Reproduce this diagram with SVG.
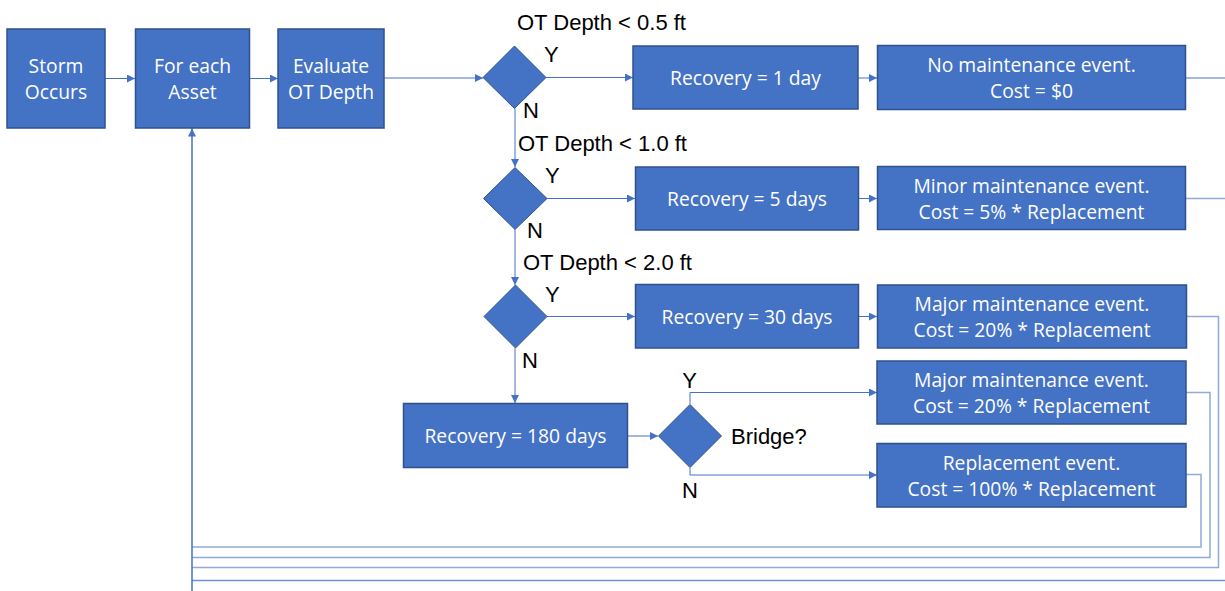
<svg xmlns="http://www.w3.org/2000/svg" width="1225" height="591" viewBox="0 0 1225 591">
<style>
.box{fill:#4472C4;stroke:#2F528F;stroke-width:1.5}
.dia{fill:#4472C4;stroke:#2F528F;stroke-width:1}
.bt{font-family:"Open Sans","Noto Sans",sans-serif;font-size:19.3px;fill:#FFFFFF;text-anchor:middle}
.lt{font-family:"Liberation Sans",Arial,sans-serif;font-size:22px;fill:#000000}
.c{fill:none;stroke:#4472C4;stroke-width:1}
.r{fill:none;stroke:#8FAADC;stroke-width:1.5}
</style>
<defs>
<marker id="ah" viewBox="0 0 10 10" refX="10" refY="5" markerWidth="8" markerHeight="8" markerUnits="userSpaceOnUse" orient="auto">
<path d="M0,0 L10,5 L0,10 z" fill="#4472C4"/>
</marker>
</defs>
<g id="connectors">
<path class="c" d="M105,78.5 H135" marker-end="url(#ah)"/>
<path class="c" d="M249,78.5 H278" marker-end="url(#ah)"/>
<path class="c" d="M384,78 H483" marker-end="url(#ah)"/>
<path class="c" d="M546,77.5 H633" marker-end="url(#ah)"/>
<path class="c" d="M858,78 H877" marker-end="url(#ah)"/>
<path class="c" d="M1186,78 H1225"/>
<path class="c" d="M515,108.5 V167" marker-end="url(#ah)"/>
<path class="c" d="M547,198.5 H635" marker-end="url(#ah)"/>
<path class="c" d="M858.5,198.5 H877" marker-end="url(#ah)"/>
<path class="r" d="M1186,198.5 H1225"/>
<path class="c" d="M515,229.5 V285" marker-end="url(#ah)"/>
<path class="c" d="M547,316.5 H635" marker-end="url(#ah)"/>
<path class="c" d="M858.5,316.5 H877" marker-end="url(#ah)"/>
<path class="c" d="M515,348 V403" marker-end="url(#ah)"/>
<path class="c" d="M627,436 H658" marker-end="url(#ah)"/>
<path class="c" d="M690,404 V392.5 H877" marker-end="url(#ah)"/>
<path class="c" d="M690,468 V475 H877" marker-end="url(#ah)"/>
<path class="r" d="M1187,316.5 H1218.5 V567.5 H192"/>
<path class="r" d="M1186,392.5 H1210 V557.5 H192"/>
<path class="r" d="M1186,474.5 H1201 V547 H192"/>
<path class="c" d="M1225,580.5 H192" style="stroke:#6F93D6;stroke-width:1.5"/>
<path class="c" d="M192,591 V128.5" style="stroke-width:1.5" marker-end="url(#ah)"/>
</g>
<g id="storm">
<rect class="box" x="7" y="29" width="98" height="99"/>
<text class="bt" x="56" y="73">Storm</text>
<text class="bt" x="56" y="99">Occurs</text>
</g>
<g id="foreach">
<rect class="box" x="135.5" y="29" width="114" height="99"/>
<text class="bt" x="192.5" y="73">For each</text>
<text class="bt" x="192.5" y="99">Asset</text>
</g>
<g id="evaluate">
<rect class="box" x="278" y="29" width="106" height="99"/>
<text class="bt" x="331" y="73">Evaluate</text>
<text class="bt" x="331" y="99">OT Depth</text>
</g>
<g id="d1">
<polygon class="dia" points="514.5,46 546,77.5 514.5,108.5 483,77.5"/>
<text class="lt" x="517" y="30">OT Depth &lt; 0.5 ft</text>
<text class="lt" x="544" y="62">Y</text>
<text class="lt" x="523" y="118">N</text>
</g>
<g id="rec1">
<rect class="box" x="633" y="46" width="225" height="63"/>
<text class="bt" x="745.5" y="85">Recovery = 1 day</text>
</g>
<g id="nomaint">
<rect class="box" x="877.5" y="45.5" width="308" height="64"/>
<text class="bt" x="1031.5" y="72">No maintenance event.</text>
<text class="bt" x="1031.5" y="98">Cost = $0</text>
</g>
<g id="d2">
<polygon class="dia" points="515,167.5 547,198.5 515,229.5 483.5,198.5"/>
<text class="lt" x="518" y="151">OT Depth &lt; 1.0 ft</text>
<text class="lt" x="545" y="183">Y</text>
<text class="lt" x="527" y="238">N</text>
</g>
<g id="rec5">
<rect class="box" x="635.5" y="167" width="223" height="63"/>
<text class="bt" x="747" y="206">Recovery = 5 days</text>
</g>
<g id="minor">
<rect class="box" x="877.5" y="166.5" width="308" height="63"/>
<text class="bt" x="1031.5" y="192.5">Minor maintenance event.</text>
<text class="bt" x="1031.5" y="218.5">Cost = 5% * Replacement</text>
</g>
<g id="d3">
<polygon class="dia" points="515.5,285 547,316.5 515.5,348 484,316.5"/>
<text class="lt" x="523" y="269.5">OT Depth &lt; 2.0 ft</text>
<text class="lt" x="545" y="302">Y</text>
<text class="lt" x="522" y="368">N</text>
</g>
<g id="rec30">
<rect class="box" x="635.5" y="284.5" width="223" height="63.5"/>
<text class="bt" x="747" y="324">Recovery = 30 days</text>
</g>
<g id="major1">
<rect class="box" x="877.5" y="285" width="309" height="63"/>
<text class="bt" x="1032" y="310.5">Major maintenance event.</text>
<text class="bt" x="1032" y="336.5">Cost = 20% * Replacement</text>
</g>
<g id="rec180">
<rect class="box" x="403.5" y="403.5" width="224" height="64"/>
<text class="bt" x="515.5" y="443">Recovery = 180 days</text>
</g>
<g id="bridge">
<polygon class="dia" points="690,404.5 721.5,436 690,467.5 658.5,436"/>
<text class="lt" x="689.5" y="387.5" text-anchor="middle">Y</text>
<text class="lt" x="731" y="443.5">Bridge?</text>
<text class="lt" x="690" y="497.5" text-anchor="middle">N</text>
</g>
<g id="major2">
<rect class="box" x="877" y="361" width="309" height="63"/>
<text class="bt" x="1031.5" y="387">Major maintenance event.</text>
<text class="bt" x="1031.5" y="413">Cost = 20% * Replacement</text>
</g>
<g id="replacement">
<rect class="box" x="877" y="443.5" width="309" height="63.5"/>
<text class="bt" x="1031.5" y="469.5">Replacement event.</text>
<text class="bt" x="1031.5" y="495.5">Cost = 100% * Replacement</text>
</g>
</svg>
